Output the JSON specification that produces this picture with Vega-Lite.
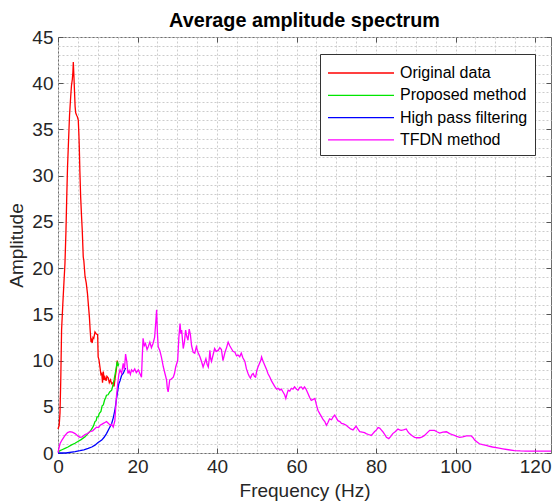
{
  "$schema": "https://vega.github.io/schema/vega-lite/v6.json",
  "width": 493,
  "height": 416,
  "autosize": {"type": "none"},
  "padding": {"left": 58, "top": 37, "right": 3, "bottom": 49},
  "title": {"text": "Average amplitude spectrum", "font": "Liberation Sans", "fontSize": 19.8, "fontWeight": "bold", "color": "#000000", "offset": -3, "anchor": "middle"},
  "config": {
    "view": {"stroke": "#6e6e6e", "strokeWidth": 1},
    "font": "Liberation Sans"
  },
  "datasets": {
    "original": [
      {"f":0,"a":2.6},{"f":0.3,"a":3.0},{"f":0.5,"a":4.3},{"f":0.7,"a":8},{"f":0.9,"a":13.3},{"f":1.2,"a":16},{"f":1.5,"a":18.5},{"f":1.75,"a":20.5},{"f":2.0,"a":24},{"f":2.2,"a":27.7},{"f":2.4,"a":31},{"f":2.6,"a":33.2},{"f":2.9,"a":36.5},{"f":3.2,"a":38.6},{"f":3.4,"a":39.8},{"f":3.6,"a":40.4},{"f":3.75,"a":41.2},{"f":3.85,"a":42.3},{"f":4.0,"a":40.8},{"f":4.1,"a":39.7},{"f":4.3,"a":37.5},{"f":4.45,"a":36.8},{"f":4.7,"a":36.5},{"f":4.85,"a":36.4},{"f":5.1,"a":36.0},{"f":5.25,"a":34.5},{"f":5.35,"a":33.2},{"f":5.5,"a":30.5},{"f":5.7,"a":27.7},{"f":5.9,"a":25.8},{"f":6.1,"a":24.1},{"f":6.35,"a":21.2},{"f":6.5,"a":20.8},{"f":6.8,"a":19.1},{"f":7.1,"a":18.4},{"f":7.4,"a":17.3},{"f":7.65,"a":16.0},{"f":7.9,"a":14.7},{"f":8.1,"a":13.2},{"f":8.3,"a":12.0},{"f":8.45,"a":12.2},{"f":8.6,"a":11.9},{"f":8.8,"a":12.5},{"f":9.0,"a":12.4},{"f":9.3,"a":13.1},{"f":9.6,"a":12.9},{"f":9.97,"a":12.8},{"f":10.1,"a":10.4},{"f":10.3,"a":10.1},{"f":10.55,"a":9.3},{"f":10.8,"a":8.5},{"f":11.0,"a":8.6},{"f":11.2,"a":7.6},{"f":11.4,"a":8.8},{"f":11.6,"a":7.9},{"f":11.8,"a":8.2},{"f":12.1,"a":7.8},{"f":12.3,"a":8.3},{"f":12.65,"a":8.1},{"f":12.9,"a":7.6},{"f":13.2,"a":7.9},{"f":13.5,"a":7.5},{"f":13.8,"a":7.6},{"f":14.1,"a":7.2},{"f":14.4,"a":8.2},{"f":14.7,"a":9.1},{"f":14.9,"a":10.0},{"f":15.05,"a":9.5}
    ],
    "proposed": [
      {"f":0,"a":0.1},{"f":0.5,"a":0.25},{"f":1.0,"a":0.35},{"f":1.76,"a":0.5},{"f":2.5,"a":0.65},{"f":3.3,"a":0.85},{"f":4.27,"a":1.05},{"f":5.0,"a":1.25},{"f":5.8,"a":1.45},{"f":6.8,"a":1.75},{"f":7.5,"a":2.1},{"f":8.2,"a":2.4},{"f":8.9,"a":2.9},{"f":9.3,"a":3.4},{"f":9.6,"a":3.5},{"f":9.8,"a":3.9},{"f":10.1,"a":3.9},{"f":10.4,"a":4.3},{"f":10.8,"a":4.5},{"f":11.1,"a":5.1},{"f":11.4,"a":5.2},{"f":11.7,"a":5.7},{"f":12.0,"a":6.0},{"f":12.2,"a":6.25},{"f":12.6,"a":6.3},{"f":13.0,"a":6.6},{"f":13.5,"a":6.8},{"f":13.8,"a":7.3},{"f":14.1,"a":7.9},{"f":14.4,"a":8.6},{"f":14.6,"a":9.1},{"f":14.9,"a":9.9},{"f":15.1,"a":9.4},{"f":15.3,"a":9.7}
    ],
    "hpf": [
      {"f":0,"a":0},{"f":2,"a":0},{"f":4.3,"a":0.15},{"f":5.5,"a":0.25},{"f":6.5,"a":0.35},{"f":7.6,"a":0.5},{"f":8.5,"a":0.65},{"f":9.3,"a":0.85},{"f":10.0,"a":1.1},{"f":11.0,"a":1.4},{"f":11.6,"a":1.7},{"f":12.2,"a":2.1},{"f":12.8,"a":2.6},{"f":13.5,"a":3.2},{"f":13.9,"a":3.8},{"f":14.3,"a":4.6},{"f":14.6,"a":5.5},{"f":14.9,"a":6.4},{"f":15.1,"a":7.0},{"f":15.3,"a":7.5},{"f":15.6,"a":7.8},{"f":16.0,"a":8.4},{"f":16.4,"a":8.6},{"f":16.8,"a":9.0},{"f":17.0,"a":9.2}
    ],
    "tfdn": [
      {"f":0,"a":0.05},{"f":0.5,"a":1.0},{"f":1.0,"a":1.4},{"f":1.76,"a":1.9},{"f":2.4,"a":2.2},{"f":3.0,"a":2.3},{"f":3.6,"a":2.25},{"f":4.3,"a":2.1},{"f":5.0,"a":1.85},{"f":5.5,"a":1.7},{"f":6.1,"a":1.75},{"f":6.8,"a":2.0},{"f":7.4,"a":2.1},{"f":8.0,"a":2.3},{"f":8.7,"a":2.4},{"f":9.2,"a":2.6},{"f":9.7,"a":2.8},{"f":10.2,"a":2.75},{"f":10.6,"a":3.0},{"f":11.0,"a":3.1},{"f":11.4,"a":3.2},{"f":11.8,"a":3.3},{"f":12.2,"a":3.4},{"f":12.7,"a":3.2},{"f":13.1,"a":3.0},{"f":13.5,"a":3.1},{"f":13.9,"a":2.8},{"f":14.3,"a":3.5},{"f":14.5,"a":4.8},{"f":14.7,"a":6.1},{"f":15.0,"a":7.4},{"f":15.3,"a":8.5},{"f":15.6,"a":9.0},{"f":16.0,"a":8.6},{"f":16.4,"a":9.7},{"f":16.7,"a":9.0},{"f":17.0,"a":10.7},{"f":17.3,"a":9.9},{"f":17.6,"a":8.6},{"f":17.9,"a":8.9},{"f":18.2,"a":8.5},{"f":18.5,"a":9.0},{"f":18.9,"a":8.8},{"f":19.3,"a":9.1},{"f":19.7,"a":8.7},{"f":20.2,"a":9.0},{"f":20.6,"a":8.6},{"f":21.0,"a":8.2},{"f":21.2,"a":10.5},{"f":21.4,"a":12.4},{"f":21.7,"a":11.6},{"f":22.0,"a":11.85},{"f":22.4,"a":11.2},{"f":22.7,"a":11.5},{"f":23.1,"a":12.0},{"f":23.5,"a":11.4},{"f":23.9,"a":11.85},{"f":24.3,"a":12.5},{"f":24.6,"a":14.2},{"f":24.8,"a":15.5},{"f":25.0,"a":13.0},{"f":25.2,"a":11.5},{"f":25.6,"a":11.1},{"f":26.0,"a":10.4},{"f":26.5,"a":9.3},{"f":26.9,"a":8.6},{"f":27.3,"a":7.9},{"f":27.5,"a":7.0},{"f":27.7,"a":6.6},{"f":27.9,"a":7.2},{"f":28.1,"a":7.9},{"f":28.5,"a":8.0},{"f":29.0,"a":8.2},{"f":29.3,"a":8.6},{"f":29.6,"a":9.3},{"f":30.1,"a":10.0},{"f":30.4,"a":12.5},{"f":30.7,"a":14.0},{"f":30.9,"a":12.9},{"f":31.1,"a":13.3},{"f":31.5,"a":11.3},{"f":31.8,"a":12.0},{"f":32.1,"a":13.3},{"f":32.4,"a":12.6},{"f":32.7,"a":12.2},{"f":33.0,"a":13.4},{"f":33.3,"a":12.8},{"f":33.6,"a":11.6},{"f":34.0,"a":10.9},{"f":34.4,"a":10.8},{"f":34.8,"a":11.5},{"f":35.2,"a":10.9},{"f":35.7,"a":10.4},{"f":36.1,"a":9.9},{"f":36.5,"a":9.3},{"f":36.9,"a":9.8},{"f":37.2,"a":10.2},{"f":37.5,"a":9.6},{"f":37.8,"a":9.3},{"f":38.0,"a":10.0},{"f":38.2,"a":11.1},{"f":38.4,"a":10.2},{"f":38.6,"a":9.9},{"f":39.0,"a":10.6},{"f":39.4,"a":11.3},{"f":39.8,"a":11.0},{"f":40.3,"a":11.1},{"f":40.7,"a":11.4},{"f":41.1,"a":11.2},{"f":41.5,"a":10.0},{"f":42.0,"a":10.9},{"f":42.4,"a":11.4},{"f":42.8,"a":12.0},{"f":43.2,"a":11.6},{"f":43.6,"a":11.3},{"f":44.0,"a":11.0},{"f":44.5,"a":10.9},{"f":44.9,"a":10.5},{"f":45.3,"a":10.6},{"f":45.7,"a":10.4},{"f":46.1,"a":10.8},{"f":46.5,"a":10.3},{"f":47.0,"a":9.9},{"f":47.4,"a":9.1},{"f":47.8,"a":8.6},{"f":48.1,"a":8.3},{"f":48.4,"a":8.1},{"f":48.8,"a":8.5},{"f":49.1,"a":8.6},{"f":49.4,"a":8.3},{"f":49.7,"a":8.2},{"f":50.0,"a":8.9},{"f":50.3,"a":9.3},{"f":50.7,"a":9.7},{"f":51.0,"a":10.0},{"f":51.2,"a":10.4},{"f":51.6,"a":9.9},{"f":52.0,"a":9.5},{"f":52.4,"a":9.1},{"f":52.8,"a":8.6},{"f":53.3,"a":8.2},{"f":53.7,"a":7.8},{"f":54.1,"a":7.5},{"f":54.5,"a":7.2},{"f":55.0,"a":6.9},{"f":55.4,"a":7.0},{"f":55.8,"a":6.8},{"f":56.2,"a":6.9},{"f":56.6,"a":6.6},{"f":57.0,"a":6.3},{"f":57.3,"a":5.9},{"f":57.6,"a":6.4},{"f":57.9,"a":6.8},{"f":58.3,"a":6.7},{"f":58.7,"a":7.0},{"f":59.1,"a":6.9},{"f":59.5,"a":7.15},{"f":60.0,"a":6.9},{"f":60.4,"a":6.8},{"f":60.8,"a":7.1},{"f":61.2,"a":7.15},{"f":61.6,"a":6.9},{"f":62.0,"a":7.15},{"f":62.4,"a":6.9},{"f":62.9,"a":6.4},{"f":63.3,"a":6.0},{"f":63.7,"a":5.7},{"f":64.2,"a":5.8},{"f":64.6,"a":5.9},{"f":65.0,"a":5.2},{"f":65.4,"a":4.6},{"f":65.9,"a":4.2},{"f":66.3,"a":3.9},{"f":66.7,"a":3.6},{"f":67.1,"a":3.4},{"f":67.5,"a":3.0},{"f":67.9,"a":3.3},{"f":68.3,"a":3.7},{"f":68.8,"a":3.6},{"f":69.2,"a":3.9},{"f":69.6,"a":4.1},{"f":70.0,"a":3.8},{"f":70.4,"a":3.5},{"f":70.9,"a":3.4},{"f":71.3,"a":3.2},{"f":71.8,"a":3.15},{"f":72.5,"a":3.0},{"f":73.0,"a":2.8},{"f":73.6,"a":2.6},{"f":74.2,"a":2.5},{"f":74.6,"a":2.7},{"f":75.0,"a":2.9},{"f":75.4,"a":2.6},{"f":75.9,"a":2.3},{"f":76.5,"a":2.25},{"f":77.1,"a":2.2},{"f":77.5,"a":2.1},{"f":78.1,"a":2.0},{"f":78.8,"a":1.9},{"f":79.2,"a":2.1},{"f":79.6,"a":2.3},{"f":80.1,"a":2.5},{"f":80.5,"a":2.75},{"f":80.9,"a":2.7},{"f":81.3,"a":2.5},{"f":81.7,"a":2.3},{"f":82.2,"a":2.0},{"f":82.6,"a":1.7},{"f":83.2,"a":1.55},{"f":83.7,"a":1.8},{"f":84.2,"a":2.1},{"f":84.8,"a":2.3},{"f":85.5,"a":2.6},{"f":85.9,"a":2.5},{"f":86.3,"a":2.45},{"f":86.9,"a":2.5},{"f":87.6,"a":2.6},{"f":88.0,"a":2.3},{"f":88.4,"a":2.1},{"f":89.0,"a":1.9},{"f":89.7,"a":1.7},{"f":90.3,"a":1.65},{"f":91.0,"a":1.65},{"f":91.6,"a":1.75},{"f":92.2,"a":1.9},{"f":92.9,"a":2.2},{"f":93.5,"a":2.45},{"f":94.1,"a":2.45},{"f":94.7,"a":2.45},{"f":95.3,"a":2.3},{"f":96.0,"a":2.15},{"f":96.8,"a":2.25},{"f":97.7,"a":2.3},{"f":98.1,"a":2.2},{"f":98.5,"a":2.1},{"f":99.1,"a":2.0},{"f":99.7,"a":1.9},{"f":100.3,"a":1.8},{"f":101.0,"a":1.7},{"f":101.8,"a":1.75},{"f":102.7,"a":1.85},{"f":103.3,"a":1.85},{"f":103.9,"a":1.85},{"f":104.4,"a":1.65},{"f":104.8,"a":1.4},{"f":105.4,"a":1.2},{"f":106.0,"a":1.0},{"f":106.8,"a":0.9},{"f":107.7,"a":0.83},{"f":108.5,"a":0.73},{"f":109.3,"a":0.65},{"f":110.6,"a":0.55},{"f":111.9,"a":0.45},{"f":113.3,"a":0.35},{"f":114.8,"a":0.25},{"f":116.3,"a":0.22},{"f":117.8,"a":0.21},{"f":120,"a":0.2},{"f":122,"a":0.2},{"f":124,"a":0.2}
    ]
  },
  "layer": [
    {
      "encoding": {
        "x": {
          "field": "f", "type": "quantitative",
          "scale": {"domain": [0, 124], "nice": false, "zero": false},
          "axis": {
            "title": "Frequency (Hz)",
            "values": [0,5,10,15,20,25,30,35,40,45,50,55,60,65,70,75,80,85,90,95,100,105,110,115,120],
            "labelExpr": "datum.value % 20 === 0 ? datum.label : ''",
            "labelOverlap": false, "labelFlush": false,
            "labelFontSize": 19, "labelColor": "#262626", "labelFont": "Liberation Sans",
            "labelPadding": 4,
            "titleFontSize": 19, "titleFontWeight": "normal", "titleColor": "#262626", "titleFont": "Liberation Sans", "titlePadding": 5,
            "domain": false, "offset": -5, "tickSize": 5, "tickColor": "#555555",
            "tickOpacity": {"condition": {"test": "datum.value % 20 === 0", "value": 1}, "value": 0},
            "grid": true, "gridColor": "#cccccc", "gridDash": [2, 2], "gridWidth": 1
          }
        },
        "y": {
          "field": "a", "type": "quantitative",
          "scale": {"domain": [0, 45], "nice": false},
          "axis": {
            "title": "Amplitude",
            "values": [0,1,2,3,4,5,6,7,8,9,10,11,12,13,14,15,16,17,18,19,20,21,22,23,24,25,26,27,28,29,30,31,32,33,34,35,36,37,38,39,40,41,42,43,44,45],
            "labelExpr": "datum.value % 5 === 0 ? datum.label : ''",
            "labelOverlap": false, "labelFlush": false,
            "labelFontSize": 19, "labelColor": "#262626", "labelFont": "Liberation Sans",
            "labelPadding": 5,
            "titleFontSize": 19, "titleFontWeight": "normal", "titleColor": "#262626", "titleFont": "Liberation Sans", "titlePadding": 5,
            "domain": false, "offset": -5, "tickSize": 5, "tickColor": "#555555",
            "tickOpacity": {"condition": {"test": "datum.value % 5 === 0", "value": 1}, "value": 0},
            "grid": true, "gridColor": "#cccccc", "gridDash": [2, 2], "gridWidth": 1
          }
        }
      },
      "layer": [
        {
          "data": {"name": "original"},
          "mark": {"type": "line", "strokeWidth": 1.3, "interpolate": "linear"},
          "encoding": {
            "color": {
              "datum": "Original data", "type": "nominal",
              "scale": {"domain": ["Original data", "Proposed method", "High pass filtering", "TFDN method"], "range": ["#ff0000", "#00e600", "#0000ff", "#ff00ff"]},
              "legend": {
                "title": null, "orient": "none", "legendX": 262, "legendY": 17,
                "symbolType": "M-3,0H3", "symbolSize": 484, "symbolStrokeWidth": 1.3, "symbolOffset": 22,
                "labelFontSize": 16, "labelFont": "Liberation Sans", "labelColor": "#000000",
                "labelOffset": 27, "rowPadding": 2.3, "padding": 7,
                "strokeColor": "#333333", "fillColor": "#ffffff", "cornerRadius": 0
              }
            }
          }
        },
        {
          "data": {"name": "proposed"},
          "mark": {"type": "line", "strokeWidth": 1.3},
          "encoding": {"color": {"datum": "Proposed method", "type": "nominal"}}
        },
        {
          "data": {"name": "hpf"},
          "mark": {"type": "line", "strokeWidth": 1.3},
          "encoding": {"color": {"datum": "High pass filtering", "type": "nominal"}}
        },
        {
          "data": {"name": "tfdn"},
          "mark": {"type": "line", "strokeWidth": 1.3},
          "encoding": {"color": {"datum": "TFDN method", "type": "nominal"}}
        }
      ]
    },
    {
      "data": {"name": "tfdn"},
      "mark": {"type": "line", "strokeOpacity": 0},
      "encoding": {
        "x": {
          "field": "f", "type": "quantitative",
          "axis": {"orient": "top", "title": null, "labels": false, "domain": false, "grid": false,
                   "values": [0,20,40,60,80,100,120], "offset": -5, "tickSize": 5, "tickColor": "#555555"}
        },
        "y": {
          "field": "a", "type": "quantitative",
          "axis": {"orient": "right", "title": null, "labels": false, "domain": false, "grid": false,
                   "values": [0,5,10,15,20,25,30,35,40,45], "offset": -5, "tickSize": 5, "tickColor": "#555555"}
        }
      }
    }
  ],
  "resolve": {"axis": {"x": "independent", "y": "independent"}}
}
